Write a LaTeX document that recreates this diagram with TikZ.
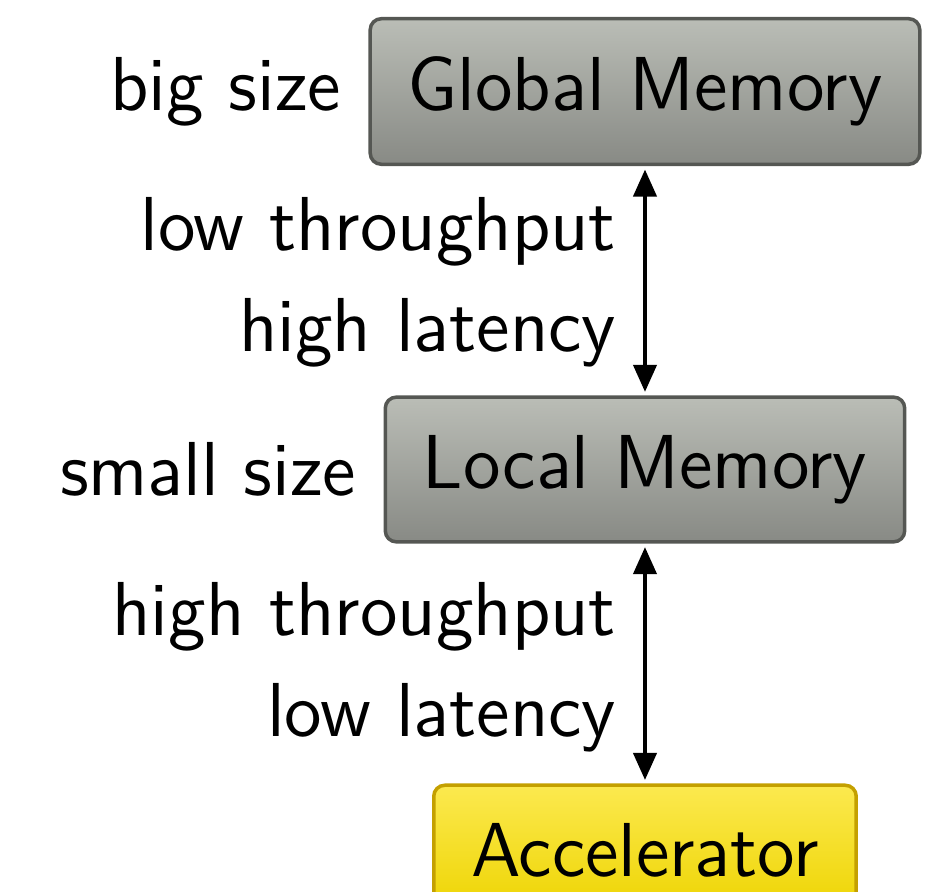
\documentclass[tikz,border=0pt]{standalone}
\usetikzlibrary{arrows.meta,calc}
\definecolor{aluTop}{HTML}{BABDB6}
\definecolor{aluBot}{HTML}{888A85}
\definecolor{aluLine}{HTML}{555753}
\definecolor{butTop}{HTML}{FCE94F}
\definecolor{butBot}{HTML}{EDD400}
\definecolor{butLine}{HTML}{C4A000}
\tikzset{
  membox/.style={draw=aluLine, line width=0.7pt, rounded corners=2.2pt,
    top color=aluTop, bottom color=aluBot, inner xsep=7.5pt, inner ysep=7.6pt},
  accbox/.style={draw=butLine, line width=0.7pt, rounded corners=2.2pt,
    top color=butTop, bottom color=butBot, inner xsep=7.5pt, inner ysep=7.6pt},
  lbl/.style={inner sep=0pt, align=right},
  arr/.style={{Triangle[length=5.4pt,width=4.6pt]}-{Triangle[length=5.4pt,width=4.6pt]},
    line width=0.8pt, shorten <=0.7pt, shorten >=0.7pt}
}
\begin{document}
\begin{tikzpicture}[x=0.2pt,y=-0.2pt,font=\sffamily\fontsize{15.3}{20.2}\selectfont]
\useasboundingbox (0,0) rectangle (937,892);
\clip (0,0) rectangle (937,892);
\node[membox] (gm) at (645,91.5) {Global Memory};
\node[membox] (lm) at (645,469.5) {Local Memory};
\node[accbox, anchor=north] (acc) at (645,783.5) {Accelerator};
\node[lbl, anchor=east] (bs) at (342,91.5) {big size};
\node[lbl, anchor=east] (ss) at (357,469.5) {small size};
\draw[arr] (gm.south) -- (lm.north);
\draw[arr] (lm.south) -- (acc.north);
\node[lbl, anchor=east] (l1) at (617,282) {low throughput\\high latency};
\node[lbl, anchor=east] (l2) at (617,667) {high throughput\\low latency};
\end{tikzpicture}
\end{document}
